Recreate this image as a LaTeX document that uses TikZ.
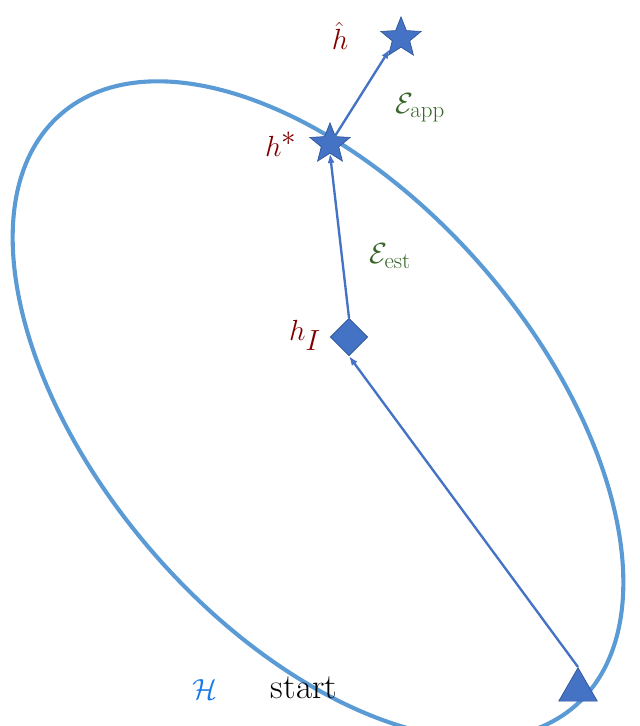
\documentclass[tikz,border=0pt]{standalone}
\usepackage{amsmath}
\usetikzlibrary{shapes.geometric,arrows.meta}
\definecolor{fillb}{HTML}{4472C4}
\definecolor{edgeb}{HTML}{2F5597}
\definecolor{ell}{HTML}{5B9BD5}
\definecolor{lab}{HTML}{800000}
\definecolor{grn}{HTML}{38652A}
\definecolor{hblue}{HTML}{1A7CE8}
\begin{document}
\begin{tikzpicture}[x=0.03cm,y=-0.03cm,
  mk/.style={fill=fillb,draw=edgeb,line width=0.6pt,inner sep=0pt},
  lbl/.style={text=lab,font=\fontsize{38}{38}\selectfont},
  glbl/.style={text=grn,font=\fontsize{28}{28}\selectfont},
  arr/.style={draw=fillb,line width=2pt,-{Latex[length=8pt,width=6pt]}}]
\useasboundingbox (0,0) rectangle (639,726);
\draw[ell,line width=3.5pt,rotate around={-49:(318,410)}] (318,410) ellipse [x radius=392, y radius=218];
\node[mk,regular polygon,regular polygon sides=3,minimum size=38pt] (s) at (578,690) {};
\node[mk,diamond,minimum size=32pt] (hi) at (349,337) {};
\node[mk,star,star points=5,star point ratio=2.3,minimum size=36pt] (hs) at (330,144) {};
\node[mk,star,star points=5,star point ratio=2.3,minimum size=36pt] (hh) at (401,38) {};
\draw[arr] (s.north) -- (hi.south);
\draw[arr] (hi.north) -- (hs.south);
\draw[arr] (hs.center) -- (hh.south west);
\node[lbl] (l1) at (340,36) {$\hat h$};
\node[lbl] (l2) at (281,144) {$h^{*}$};
\node[lbl] (l3) at (305,335) {$h_I$};
\node[glbl] (l4) at (420,108) {$\mathcal{E}_{\text{app}}$};
\node[glbl] (l5) at (390,256) {$\mathcal{E}_{\text{est}}$};
\node[font=\fontsize{30}{30}\selectfont] (l6) at (304,688) {start};
\node[text=hblue,font=\fontsize{48}{48}\selectfont] (l7) at (205,690) {$\mathcal{H}$};
\end{tikzpicture}
\end{document}
